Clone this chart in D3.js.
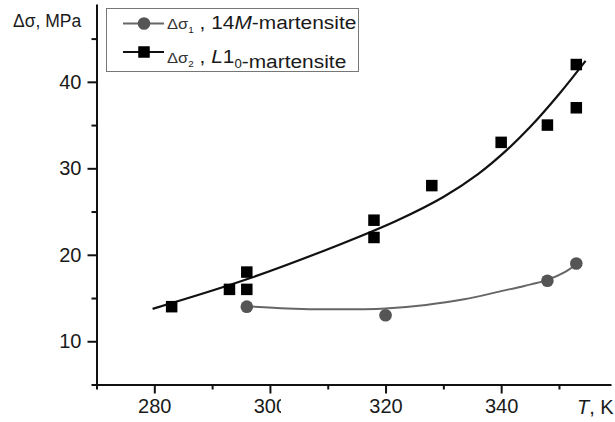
<!DOCTYPE html>
<html>
<head>
<meta charset="utf-8">
<script src="https://cdn.jsdelivr.net/npm/d3@7"></script>
<style>
  body { margin: 0; background: #fff; }
  text { font-family: "Liberation Sans", Arial, sans-serif; fill: #1a1a1a; }
</style>
</head>
<body>
<div id="chart"></div>
<script>
// measured points
const temps14M = [296, 320, 348, 353];
const sigma14M = [14, 13, 17, 19];
const tempsL10 = [283, 293, 296, 296, 318, 318, 328, 340, 348, 353, 353];
const sigmaL10 = [14, 16, 16, 18, 24, 22, 28, 33, 35, 42, 37];

// fitted curves
const fitTemps14M = [296, 303, 310.5, 320, 327, 333.6, 340, 344, 348, 351, 353.2];
const fitSigma14M = [14.05, 13.8, 13.7, 13.8, 14.2, 14.85, 15.8, 16.4, 17.1, 18.0, 19.0];
const fitTempsL10 = [279.7, 296, 312, 322, 330, 336, 341, 345, 350, 354.6];
const fitSigmaL10 = [13.75, 17.17, 21.17, 23.97, 26.69, 29.33, 32.13, 34.77, 38.57, 42.43];

const xMajor = [280, 300, 320, 340];
const xMinor = [270, 290, 310, 330, 350];
const yMajor = [10, 20, 30, 40];
const yMinor = [5, 15, 25, 35, 45];

const W = 615, H = 422;

const svg = d3.select("#chart").append("svg")
    .attr("width", W)
    .attr("height", H);

const x = d3.scaleLinear().domain([270, 359]).range([96.5, 611]);
const y = d3.scaleLinear().domain([5, 49]).range([384.5, 4]);

const axisColor = "#111";

// x axis
const gx = svg.append("g").attr("transform", "translate(0,384.5)");
gx.call(d3.axisBottom(x).tickValues(xMajor).tickSize(9).tickSizeOuter(0).tickPadding(5))
gx.call(g => g.selectAll("text").style("font-size", "20px"));
svg.append("g").attr("transform", "translate(0,384.5)")
    .call(d3.axisBottom(x).tickValues(xMinor).tickSize(5).tickSizeOuter(0).tickFormat(""))
    .call(g => g.select(".domain").remove());

// y axis
const gy = svg.append("g").attr("transform", "translate(96.5,0)");
gy.call(d3.axisLeft(y).tickValues(yMajor).tickSize(9).tickSizeOuter(0).tickPadding(6))
gy.call(g => g.selectAll("text").style("font-size", "20px"));
svg.append("g").attr("transform", "translate(96.5,0)")
    .call(d3.axisLeft(y).tickValues(yMinor).tickSize(5).tickSizeOuter(0).tickFormat(""))
    .call(g => g.select(".domain").remove());

svg.selectAll(".domain").attr("stroke", axisColor).attr("stroke-width", 2);
svg.selectAll(".tick line").attr("stroke", axisColor).attr("stroke-width", 2);
svg.selectAll(".tick text").attr("fill", "#1a1a1a")
    .style("font-family", "'Liberation Sans', Arial, sans-serif");

// the "300" label is clipped in the original scan
svg.append("rect").attr("x", 281).attr("y", 395).attr("width", 10).attr("height", 25).attr("fill", "#fff");

// axis titles
svg.append("text").attr("x", 13).attr("y", 27).style("font-size", "17.5px").text("Δσ, MPa");
const xt = svg.append("text").attr("x", 577).attr("y", 414).style("font-size", "20px");
xt.append("tspan").style("font-style", "italic").text("T");
xt.append("tspan").text(", K");

// fitted lines
const line = d3.line().x(d => x(d[0])).y(d => y(d[1])).curve(d3.curveCatmullRom);
svg.append("path")
    .datum(d3.zip(fitTempsL10, fitSigmaL10))
    .attr("d", line)
    .attr("fill", "none")
    .attr("stroke", "#111")
    .attr("stroke-width", 2.2);
svg.append("path")
    .datum(d3.zip(fitTemps14M, fitSigma14M))
    .attr("d", line)
    .attr("fill", "none")
    .attr("stroke", "#666")
    .attr("stroke-width", 2);

// markers
const sq = 11.5;
svg.selectAll(".sq")
    .data(d3.zip(tempsL10, sigmaL10))
    .enter().append("rect")
    .attr("class", "sq")
    .attr("x", d => x(d[0]) - sq / 2)
    .attr("y", d => y(d[1]) - sq / 2)
    .attr("width", sq)
    .attr("height", sq)
    .attr("fill", "#000");
svg.selectAll(".dot")
    .data(d3.zip(temps14M, sigma14M))
    .enter().append("circle")
    .attr("class", "dot")
    .attr("cx", d => x(d[0]))
    .attr("cy", d => y(d[1]))
    .attr("r", 6.3)
    .attr("fill", "#555");

// legend
const lg = svg.append("g");
lg.append("rect")
    .attr("x", 106.5).attr("y", 8.5).attr("width", 252).attr("height", 63)
    .attr("fill", "#fff").attr("stroke", "#777").attr("stroke-width", 1);

const rows = [
    { y: 23.5, ty: 28.5, color: "#666", mark: "circle", sub: "1", rest: [[", 14", false], ["M", true], ["-martensite", false]] },
    { y: 52, ty: 62.5, color: "#111", mark: "square", sub: "2", rest: [[", ", false], ["L", true], ["1", false], ["0", "sub"], ["-martensite", false]] }
];
rows.forEach(r => {
    lg.append("line").attr("x1", 123).attr("x2", 164).attr("y1", r.y).attr("y2", r.y)
        .attr("stroke", r.color).attr("stroke-width", 2);
    if (r.mark === "circle") {
        lg.append("circle").attr("cx", 144).attr("cy", r.y).attr("r", 6.3).attr("fill", "#555");
    } else {
        lg.append("rect").attr("x", 144 - sq / 2).attr("y", r.y - sq / 2)
            .attr("width", sq).attr("height", sq).attr("fill", "#000");
    }
    const t = lg.append("text")
        .attr("transform", `translate(167,${r.ty}) scale(1.1,1)`)
        .style("font-size", "19px");
    t.append("tspan").style("font-size", "15px").attr("fill", "#333").text("Δσ");
    t.append("tspan").style("font-size", "9px").attr("dy", 4).text(r.sub);
    t.append("tspan").attr("dy", -4).text(" ");
    r.rest.forEach(([s, f]) => {
        if (f === "sub") {
            t.append("tspan").style("font-size", "12px").attr("dy", 5).text(s);
            t.append("tspan").attr("dy", -5).text("");
        } else {
            t.append("tspan").style("font-style", f ? "italic" : "normal").text(s);
        }
    });
});
</script>
</body>
</html>
